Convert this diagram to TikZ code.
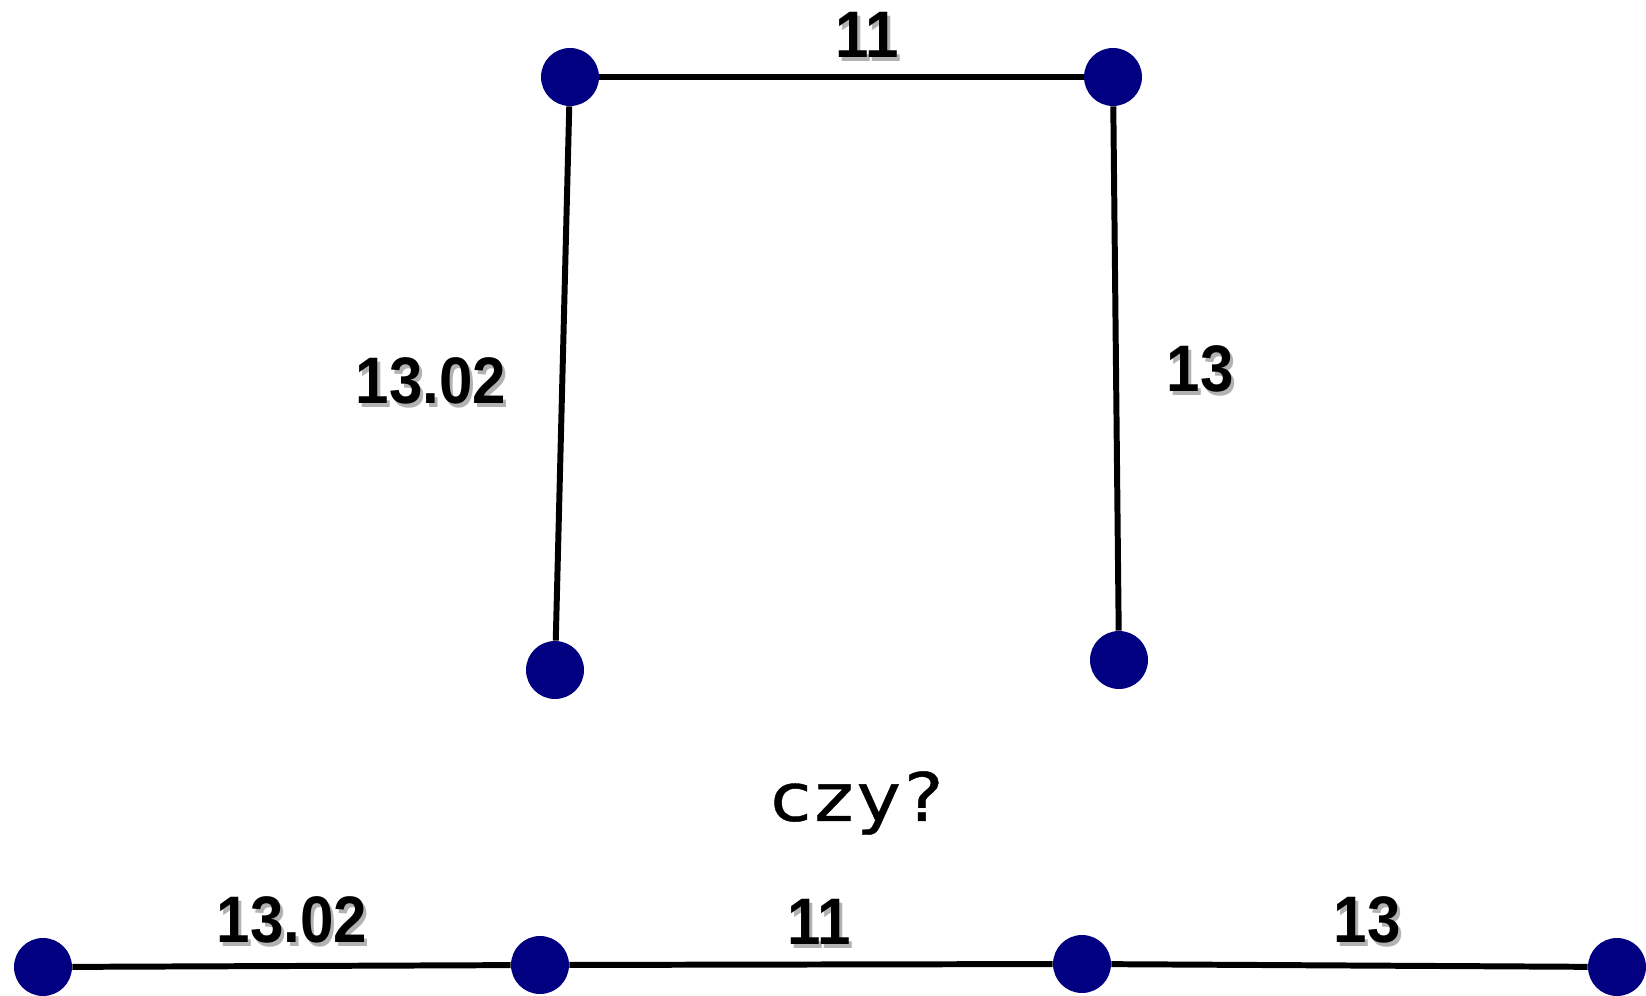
\documentclass[tikz,border=0pt]{standalone}
\usepackage{fontspec}
\setmainfont{Liberation Sans}
\newfontfamily\czyfont[LetterSpace=4, FakeBold=0.6]{DejaVu Sans}
\usepackage{tikz}
\usetikzlibrary{positioning}

\definecolor{navy}{RGB}{0,0,128}
\newcommand{\shadowlabel}[1]{\scalebox{0.95}[1.04]{\makebox[0pt][l]{\hspace{1.8pt}\raisebox{-1.8pt}{\textcolor{black!30}{#1}}}#1}}

\begin{document}
\begin{tikzpicture}[
    x=0.02cm, y=-0.02cm,
    vertex/.style={circle, fill=navy, inner sep=0pt, minimum size=1.16cm},
    link/.style={line width=3.4pt, draw=black},
    weight/.style={font=\fontsize{36}{40}\selectfont\bfseries, inner sep=0pt}
]
\useasboundingbox (0,0) rectangle (1646,996);

% Top: tree with bent shape
\node[vertex] (tl) at (570, 77) {};
\node[vertex] (tr) at (1113, 77) {};
\node[vertex] (bl) at (555, 670) {};
\node[vertex] (br) at (1119, 660) {};

\draw[link] (tl) -- (tr);
\draw[link] (tl) -- (bl);
\draw[link] (tr) -- (br);

\node[weight] (w11) at (867, 37) {\shadowlabel{11}};
\node[weight] (w1302) at (431, 383) {\shadowlabel{13.02}};
\node[weight] (w13) at (1200, 371) {\shadowlabel{13}};

% Question
\node[font=\czyfont\fontsize{38}{42}\selectfont, inner sep=0pt] (czy) at (857, 803) {\scalebox{1.12}[1]{czy?}};

% Bottom: path
\node[vertex] (p1) at (43, 967) {};
\node[vertex] (p2) at (540, 965) {};
\node[vertex] (p3) at (1082, 964) {};
\node[vertex] (p4) at (1617, 967) {};

\draw[link] (p1) -- (p2);
\draw[link] (p2) -- (p3);
\draw[link] (p3) -- (p4);

\node[weight] (v1302) at (292, 922) {\shadowlabel{13.02}};
\node[weight] (v11) at (819, 924) {\shadowlabel{11}};
\node[weight] (v13) at (1367, 922) {\shadowlabel{13}};

\end{tikzpicture}
\end{document}
